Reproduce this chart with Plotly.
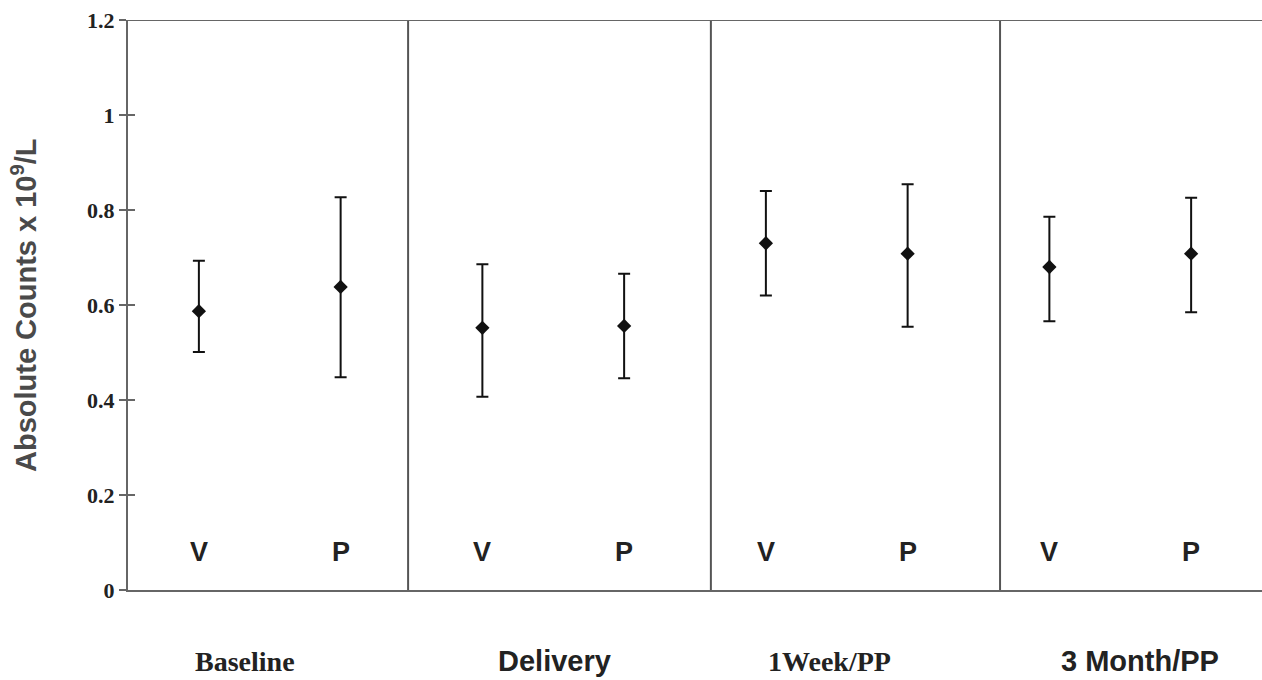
import plotly.graph_objects as go

# Time points and groups
periods = ["Baseline", "Delivery", "1Week/PP", "3 Month/PP"]
groups = ["V", "P"]

# Mean absolute counts (x 10^9/L) per period for each group
v_mean = [0.587, 0.552, 0.730, 0.680]
p_mean = [0.638, 0.556, 0.708, 0.708]
# Upper and lower limits of the error bars
v_high = [0.693, 0.686, 0.840, 0.786]
v_low = [0.501, 0.407, 0.620, 0.566]
p_high = [0.827, 0.666, 0.854, 0.826]
p_low = [0.448, 0.446, 0.554, 0.585]

y_ticks = [0, 0.2, 0.4, 0.6, 0.8, 1, 1.2]
y_ticktext = ["0", "0.2", "0.4", "0.6", "0.8", "1", "1.2"]

# Horizontal layout: each period occupies one unit on the x axis
v_x = [i + 0.25 for i in range(len(periods))]
p_x = [i + 0.75 for i in range(len(periods))]
divider_x = [0.988, 2.056, 3.076]
period_label_x = [0.413, 1.506, 2.476, 3.57]
period_fonts = ["Liberation Serif", "Liberation Sans", "Liberation Serif", "Liberation Sans"]

PLOT_W = 1262 - 128

fig = go.Figure()


def add_group(xs, mean, high, low, name, thickness):
    fig.add_trace(go.Scatter(
        x=xs, y=mean, mode="markers", name=name,
        marker=dict(symbol="diamond", size=11, color="#111111"),
        error_y=dict(
            type="data", symmetric=False,
            array=[h - m for h, m in zip(high, mean)],
            arrayminus=[m - l for m, l in zip(mean, low)],
            color="#111111", thickness=thickness, width=6,
        ),
        showlegend=False,
    ))


add_group(v_x, v_mean, v_high, v_low, "V", 2)
add_group(p_x, p_mean, p_high, p_low, "P", 2)

# Overlay axis carrying the inside half of each tick mark
fig.add_trace(go.Scatter(x=[0], y=[0], yaxis="y2", mode="markers",
                         marker=dict(opacity=0), showlegend=False, hoverinfo="skip"))

shapes = []
# Vertical separators between periods
for dx in divider_x:
    shapes.append(dict(type="line", xref="x", yref="y", x0=dx, x1=dx, y0=0, y1=1.2,
                       line=dict(color="#555555", width=2)))
# Top border
shapes.append(dict(type="line", xref="paper", yref="y", x0=0, x1=1, y0=1.2, y1=1.2,
                   line=dict(color="#666666", width=2)))

annotations = []
# Group letters inside each period
for xs, g in ((v_x, groups[0]), (p_x, groups[1])):
    for x in xs:
        annotations.append(dict(x=x, y=0.08, xref="x", yref="y", text="<b>" + g + "</b>",
                                showarrow=False,
                                font=dict(family="Liberation Sans", size=27, color="#222222")))
# Period labels below the axis
for x, label, fam in zip(period_label_x, periods, period_fonts):
    annotations.append(dict(x=x, y=0, xref="x", yref="paper", yanchor="middle", yshift=-71,
                            text="<b>" + label + "</b>", showarrow=False,
                            font=dict(family=fam, size=29 if fam == "Liberation Sans" else 28,
                                      color="#222222")))
# Y axis title
annotations.append(dict(x=-(128 - 24) / PLOT_W, y=0.5, xref="paper", yref="paper",
                        text="<b>Absolute Counts x 10<sup>9</sup>/L</b>", textangle=-90,
                        showarrow=False, xanchor="center", yanchor="middle",
                        font=dict(family="Liberation Sans", size=29, color="#4a4a4a")))

fig.update_layout(
    width=1262, height=680,
    margin=dict(l=128, r=0, t=20, b=90),
    paper_bgcolor="white", plot_bgcolor="white",
    xaxis=dict(range=[0, 4], showgrid=False, zeroline=False, showticklabels=False,
               ticks="", showline=True, linecolor="#666666", linewidth=2),
    yaxis=dict(range=[0, 1.2], showgrid=False, zeroline=False,
               tickvals=y_ticks, ticktext=["<b>" + t + "</b>" for t in y_ticktext],
               ticks="outside", ticklen=7, tickwidth=1.5, tickcolor="#666666",
               tickfont=dict(family="Liberation Serif", size=22, color="#222222"),
               showline=True, linecolor="#666666", linewidth=2),
    yaxis2=dict(range=[0, 1.2], overlaying="y", side="left", showgrid=False,
                zeroline=False, tickvals=y_ticks[1:-1], ticks="inside", ticklen=7,
                tickwidth=1.5, tickcolor="#666666", showticklabels=False, showline=False),
    shapes=shapes,
    annotations=annotations,
)

fig.write_html("out.html")
